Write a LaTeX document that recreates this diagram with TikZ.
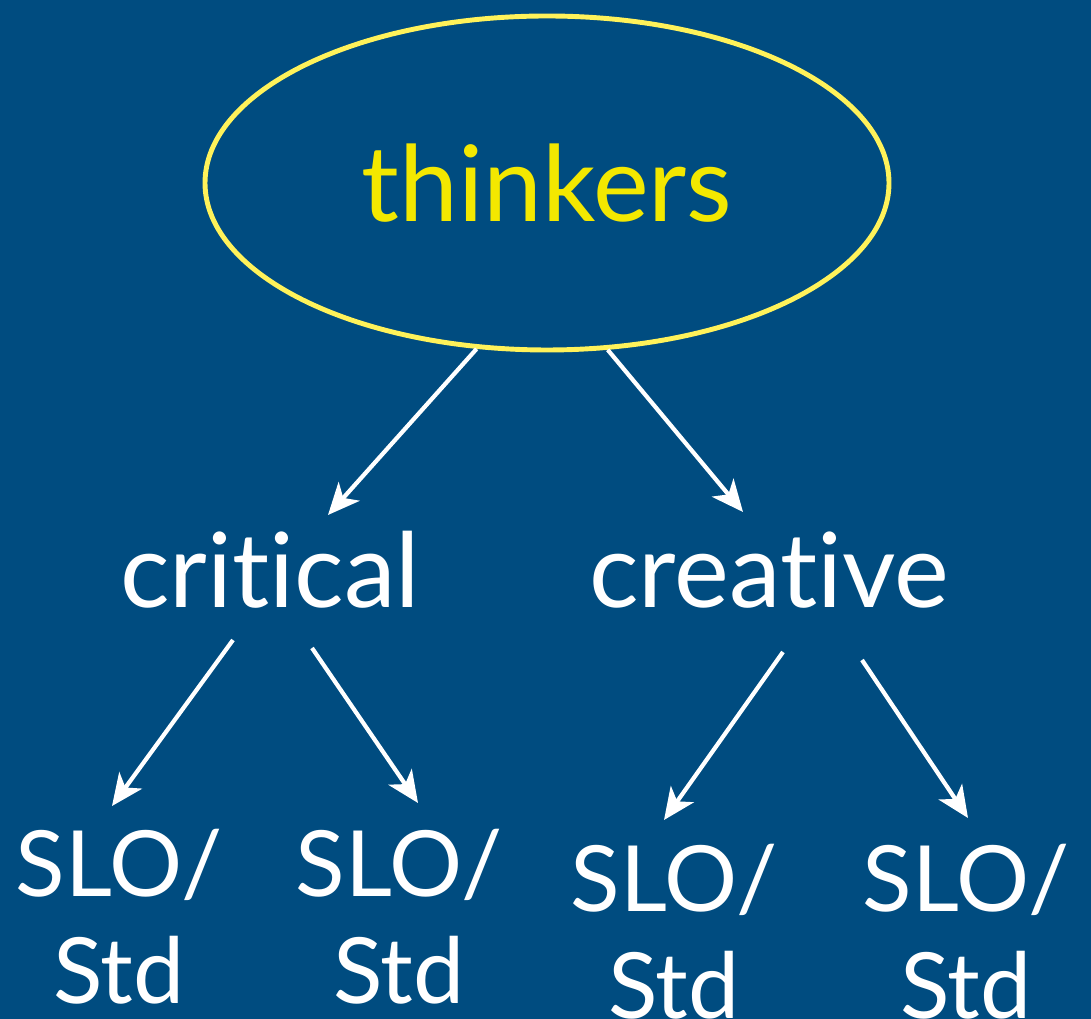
\documentclass[tikz,border=0pt]{standalone}
\usepackage{fontspec}
\setmainfont{Lato}[Ligatures=NoCommon]
\usetikzlibrary{arrows.meta,shapes.geometric}
\definecolor{slideblue}{RGB}{0,76,128}
\definecolor{thinkyellow}{RGB}{243,232,0}
\definecolor{ringyellow}{RGB}{255,242,90}
\begin{document}
\begin{tikzpicture}[%
    topword/.style={ellipse, draw=ringyellow, line width=1.4pt, minimum width=6.84cm, minimum height=3.34cm, inner sep=0pt, text=thinkyellow, font=\fontsize{30}{36}\selectfont},
    word/.style={text=white, inner sep=0pt, anchor=base, font=\fontsize{29.5}{36}\selectfont},
    slo/.style={text=white, inner sep=0pt, anchor=north, align=center, font=\fontsize{26}{30.7}\selectfont},
    myarrow/.style={draw=white, line width=1.2pt, -{Stealth[length=9pt,width=8pt,inset=2.5pt]}}
  ]
  \fill [slideblue] (0,0) rectangle (10.91,10.19);
  \useasboundingbox (0,0) rectangle (10.91,10.19);

  \node [topword] (thinkers) at (5.47,8.36) {thinkers};
  \node [word] (critical) at (2.70,4.11) {critical};
  \node [word] (creative) at (7.69,4.11) {creative};

  \node [slo] (slo1) at (1.19,1.91) {SLO/\\Std};
  \node [slo] (slo2) at (3.99,1.91) {SLO/\\Std};
  \node [slo] (slo3) at (6.74,1.76) {SLO/\\Std};
  \node [slo] (slo4) at (9.66,1.76) {SLO/\\Std};

  \draw [myarrow] (thinkers.247) -- ([shift={(0.58,0.93)}]critical.base);
  \draw [myarrow] (thinkers.290) -- ([shift={(-0.26,0.96)}]creative.base);
  \draw [myarrow] ([shift={(-0.37,-0.32)}]critical.base) -- ([shift={(-0.07,0.22)}]slo1.north);
  \draw [myarrow] ([shift={(0.42,-0.40)}]critical.base) -- ([shift={(0.19,0.25)}]slo2.north);
  \draw [myarrow] ([shift={(0.14,-0.44)}]creative.base) -- ([shift={(-0.10,0.23)}]slo3.north);
  \draw [myarrow] ([shift={(0.93,-0.52)}]creative.base) -- ([shift={(0.02,0.25)}]slo4.north);
\end{tikzpicture}
\end{document}
